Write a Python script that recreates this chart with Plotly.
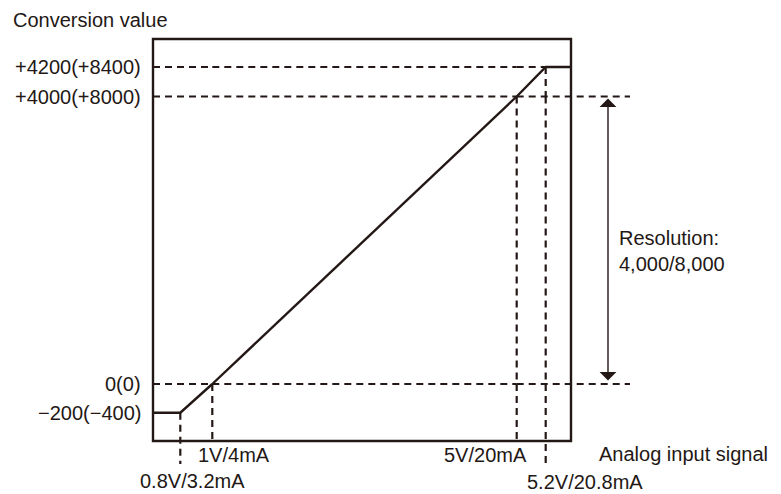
import plotly.graph_objects as go

# ---------------- data ----------------
signal_volts = [0.8, 1.0, 5.0, 5.2]
signal_labels = ["0.8V/3.2mA", "1V/4mA", "5V/20mA", "5.2V/20.8mA"]
conversion_values = [-200, 0, 4000, 4200]
conversion_labels = ["\u2212200(\u2212400)", "0(0)", "+4000(+8000)", "+4200(+8400)"]
y_title = "Conversion value"
x_title = "Analog input signal"
resolution_lines = ["Resolution:", "4,000/8,000"]

# ---------------- layout constants (pixels) ----------------
W, H = 781, 494
INK = "#231815"
FONT = "Liberation Sans, Arial, Helvetica, sans-serif"
FS = 20
BOX_L, BOX_R, BOX_T, BOX_B = 153, 571, 39, 441
OV = 4            # overlap of neighbouring axis pieces
GUIDE_R = 630     # right end of the 0 / 4000 guide lines
GUIDE_B = 464     # lower end of the 0.8V / 5.2V guide lines
ARROW_X = 608
DASH = "7px,5px"
LW = 2.4
DLW = 2.2

v = signal_volts
c = conversion_values

# schematic (broken) axes: (anchor value, anchor pixel, pixels per unit, pixel start, pixel end)
x_pieces = [
    (v[1], 212.3, 160.0, BOX_L, 212.3 + OV),
    (v[1], 212.3, 76.1, 212.3 - OV, 516.7 + OV),
    (v[2], 516.7, 145.0, 516.7 - OV, 640),
]
y_pieces = [  # pixel start = bottom, pixel end = top
    (c[1], 384.0, 0.1435, 472, 384 - OV),
    (c[1], 384.0, 0.071875, 384 + OV, 96.5 - OV),
    (c[2], 96.5, 0.1475, 96.5 + OV, 38),
]


def xval(i, px):
    a, apx, k, lo, hi = x_pieces[i]
    return a + (px - apx) / k


def yval(i, py):
    a, apy, k, lo, hi = y_pieces[i]
    return a + (apy - py) / k


def xid(i):
    return "x" if i == 0 else f"x{i + 1}"


def yid(i):
    return "y" if i == 0 else f"y{i + 1}"


def find_x(val):
    for i in range(len(x_pieces)):
        lo, hi = xval(i, x_pieces[i][3]), xval(i, x_pieces[i][4])
        if lo < val < hi:
            return i
    return 0


def find_y(val):
    for i in range(len(y_pieces)):
        lo, hi = yval(i, y_pieces[i][3]), yval(i, y_pieces[i][4])
        if lo < val < hi:
            return i
    return 0


axes = {}
for i, (a, apx, k, lo, hi) in enumerate(x_pieces):
    name = "xaxis" if i == 0 else f"xaxis{i + 1}"
    axes[name] = dict(range=[xval(i, lo), xval(i, hi)], domain=[lo / W, hi / W],
                      visible=False, fixedrange=True, anchor=yid(i))
for i, (a, apy, k, lo, hi) in enumerate(y_pieces):
    name = "yaxis" if i == 0 else f"yaxis{i + 1}"
    axes[name] = dict(range=[yval(i, lo), yval(i, hi)], domain=[1 - lo / H, 1 - hi / H],
                      visible=False, fixedrange=True, anchor=xid(i))

fig = go.Figure()


def seg(xi, yi, xs, ys, dash=None, width=LW):
    fig.add_trace(go.Scatter(
        x=xs, y=ys, xaxis=xid(xi), yaxis=yid(yi), mode="lines",
        line=dict(color=INK, width=width, dash=dash),
        hoverinfo="skip", showlegend=False))


X_BOX_L = xval(0, BOX_L)
X_BOX_R = xval(2, BOX_R)
X_GUIDE_R = xval(2, GUIDE_R)
Y_BOX_B = yval(0, BOX_B)
Y_GUIDE_B = yval(0, GUIDE_B)

# ---- dashed guide lines ----
# +4200
seg(0, 2, [X_BOX_L, v[1]], [c[3]] * 2, DASH, DLW)
seg(1, 2, [v[1], v[2]], [c[3]] * 2, DASH, DLW)
seg(2, 2, [v[2], v[3]], [c[3]] * 2, DASH, DLW)
# +4000 and 0
for val in (c[2], c[1]):
    seg(0, 1, [X_BOX_L, v[1]], [val] * 2, DASH, DLW)
    seg(1, 1, [v[1], v[2]], [val] * 2, DASH, DLW)
    seg(2, 1, [v[2], X_GUIDE_R], [val] * 2, DASH, DLW)
# verticals
seg(0, 0, [v[0]] * 2, [c[0], Y_GUIDE_B], DASH, DLW)
seg(0, 0, [v[1]] * 2, [c[1], Y_BOX_B], DASH, DLW)
seg(1, 1, [v[2]] * 2, [c[2], c[1]], DASH, DLW)
seg(1, 0, [v[2]] * 2, [c[1], Y_BOX_B], DASH, DLW)
seg(2, 2, [v[3]] * 2, [c[3], c[2]], DASH, DLW)
seg(2, 1, [v[3]] * 2, [c[2], c[1]], DASH, DLW)
seg(2, 0, [v[3]] * 2, [c[1], Y_GUIDE_B], DASH, DLW)

# ---- conversion characteristic ----
seg(0, 0, [X_BOX_L, v[0], v[1]], [c[0], c[0], c[1]])
seg(1, 1, [v[1], v[2]], [c[1], c[2]])
seg(2, 2, [v[2], v[3], X_BOX_R], [c[2], c[3], c[3]])

# ---- frame ----
fig.add_shape(type="rect", xref="paper", yref="paper",
              x0=BOX_L / W, x1=BOX_R / W, y0=1 - BOX_B / H, y1=1 - BOX_T / H,
              line=dict(color=INK, width=LW))

ann = []
font = dict(family=FONT, size=FS, color=INK)

# y labels
for val, lab in zip(c, conversion_labels):
    ann.append(dict(x=BOX_L / W, xref="paper", xshift=-10, xanchor="right",
                    y=val, yref=yid(find_y(val)), yanchor="middle",
                    text=lab, showarrow=False, font=font))

# x labels
X_LABEL_SHIFT = [12, 22, -31, 39]
X_LABEL_ROW = [481, 455, 455, 482]
for val, lab, sh, row in zip(v, signal_labels, X_LABEL_SHIFT, X_LABEL_ROW):
    ann.append(dict(x=val, xref=xid(find_x(val)), xshift=sh, xanchor="center",
                    y=1 - row / H, yref="paper", yanchor="middle",
                    text=lab, showarrow=False, font=font))

ann.append(dict(x=597 / W, xref="paper", xanchor="left", y=1 - 454 / H, yref="paper",
                yanchor="middle", text=x_title, showarrow=False, font=font))
ann.append(dict(x=11 / W, xref="paper", xanchor="left", y=1 - 20 / H, yref="paper",
                yanchor="middle", text=y_title, showarrow=False, font=font))
ann.append(dict(x=617 / W, xref="paper", xanchor="left", y=1 - 251 / H, yref="paper",
                yanchor="middle", align="left", text="<br>".join(resolution_lines),
                showarrow=False, font=font))

# resolution arrow (0 .. 4000), both ends on the middle y piece
arrow_axis = yid(1)
ann.append(dict(x=ARROW_X / W, xref="paper", y=c[2], yref=arrow_axis,
                ax=0, axref="pixel", ay=c[1], ayref=arrow_axis,
                text="", showarrow=True, arrowside="end+start",
                arrowhead=1, startarrowhead=1, arrowsize=2.0, startarrowsize=2.0,
                arrowwidth=1.4, arrowcolor=INK, standoff=2, startstandoff=2))

fig.update_layout(
    width=W, height=H,
    margin=dict(l=0, r=0, t=0, b=0),
    paper_bgcolor="white", plot_bgcolor="rgba(0,0,0,0)",
    showlegend=False, annotations=ann, **axes,
)

fig.write_html("out.html", config={"displayModeBar": False},
               post_script="document.body.style.margin='0';")
